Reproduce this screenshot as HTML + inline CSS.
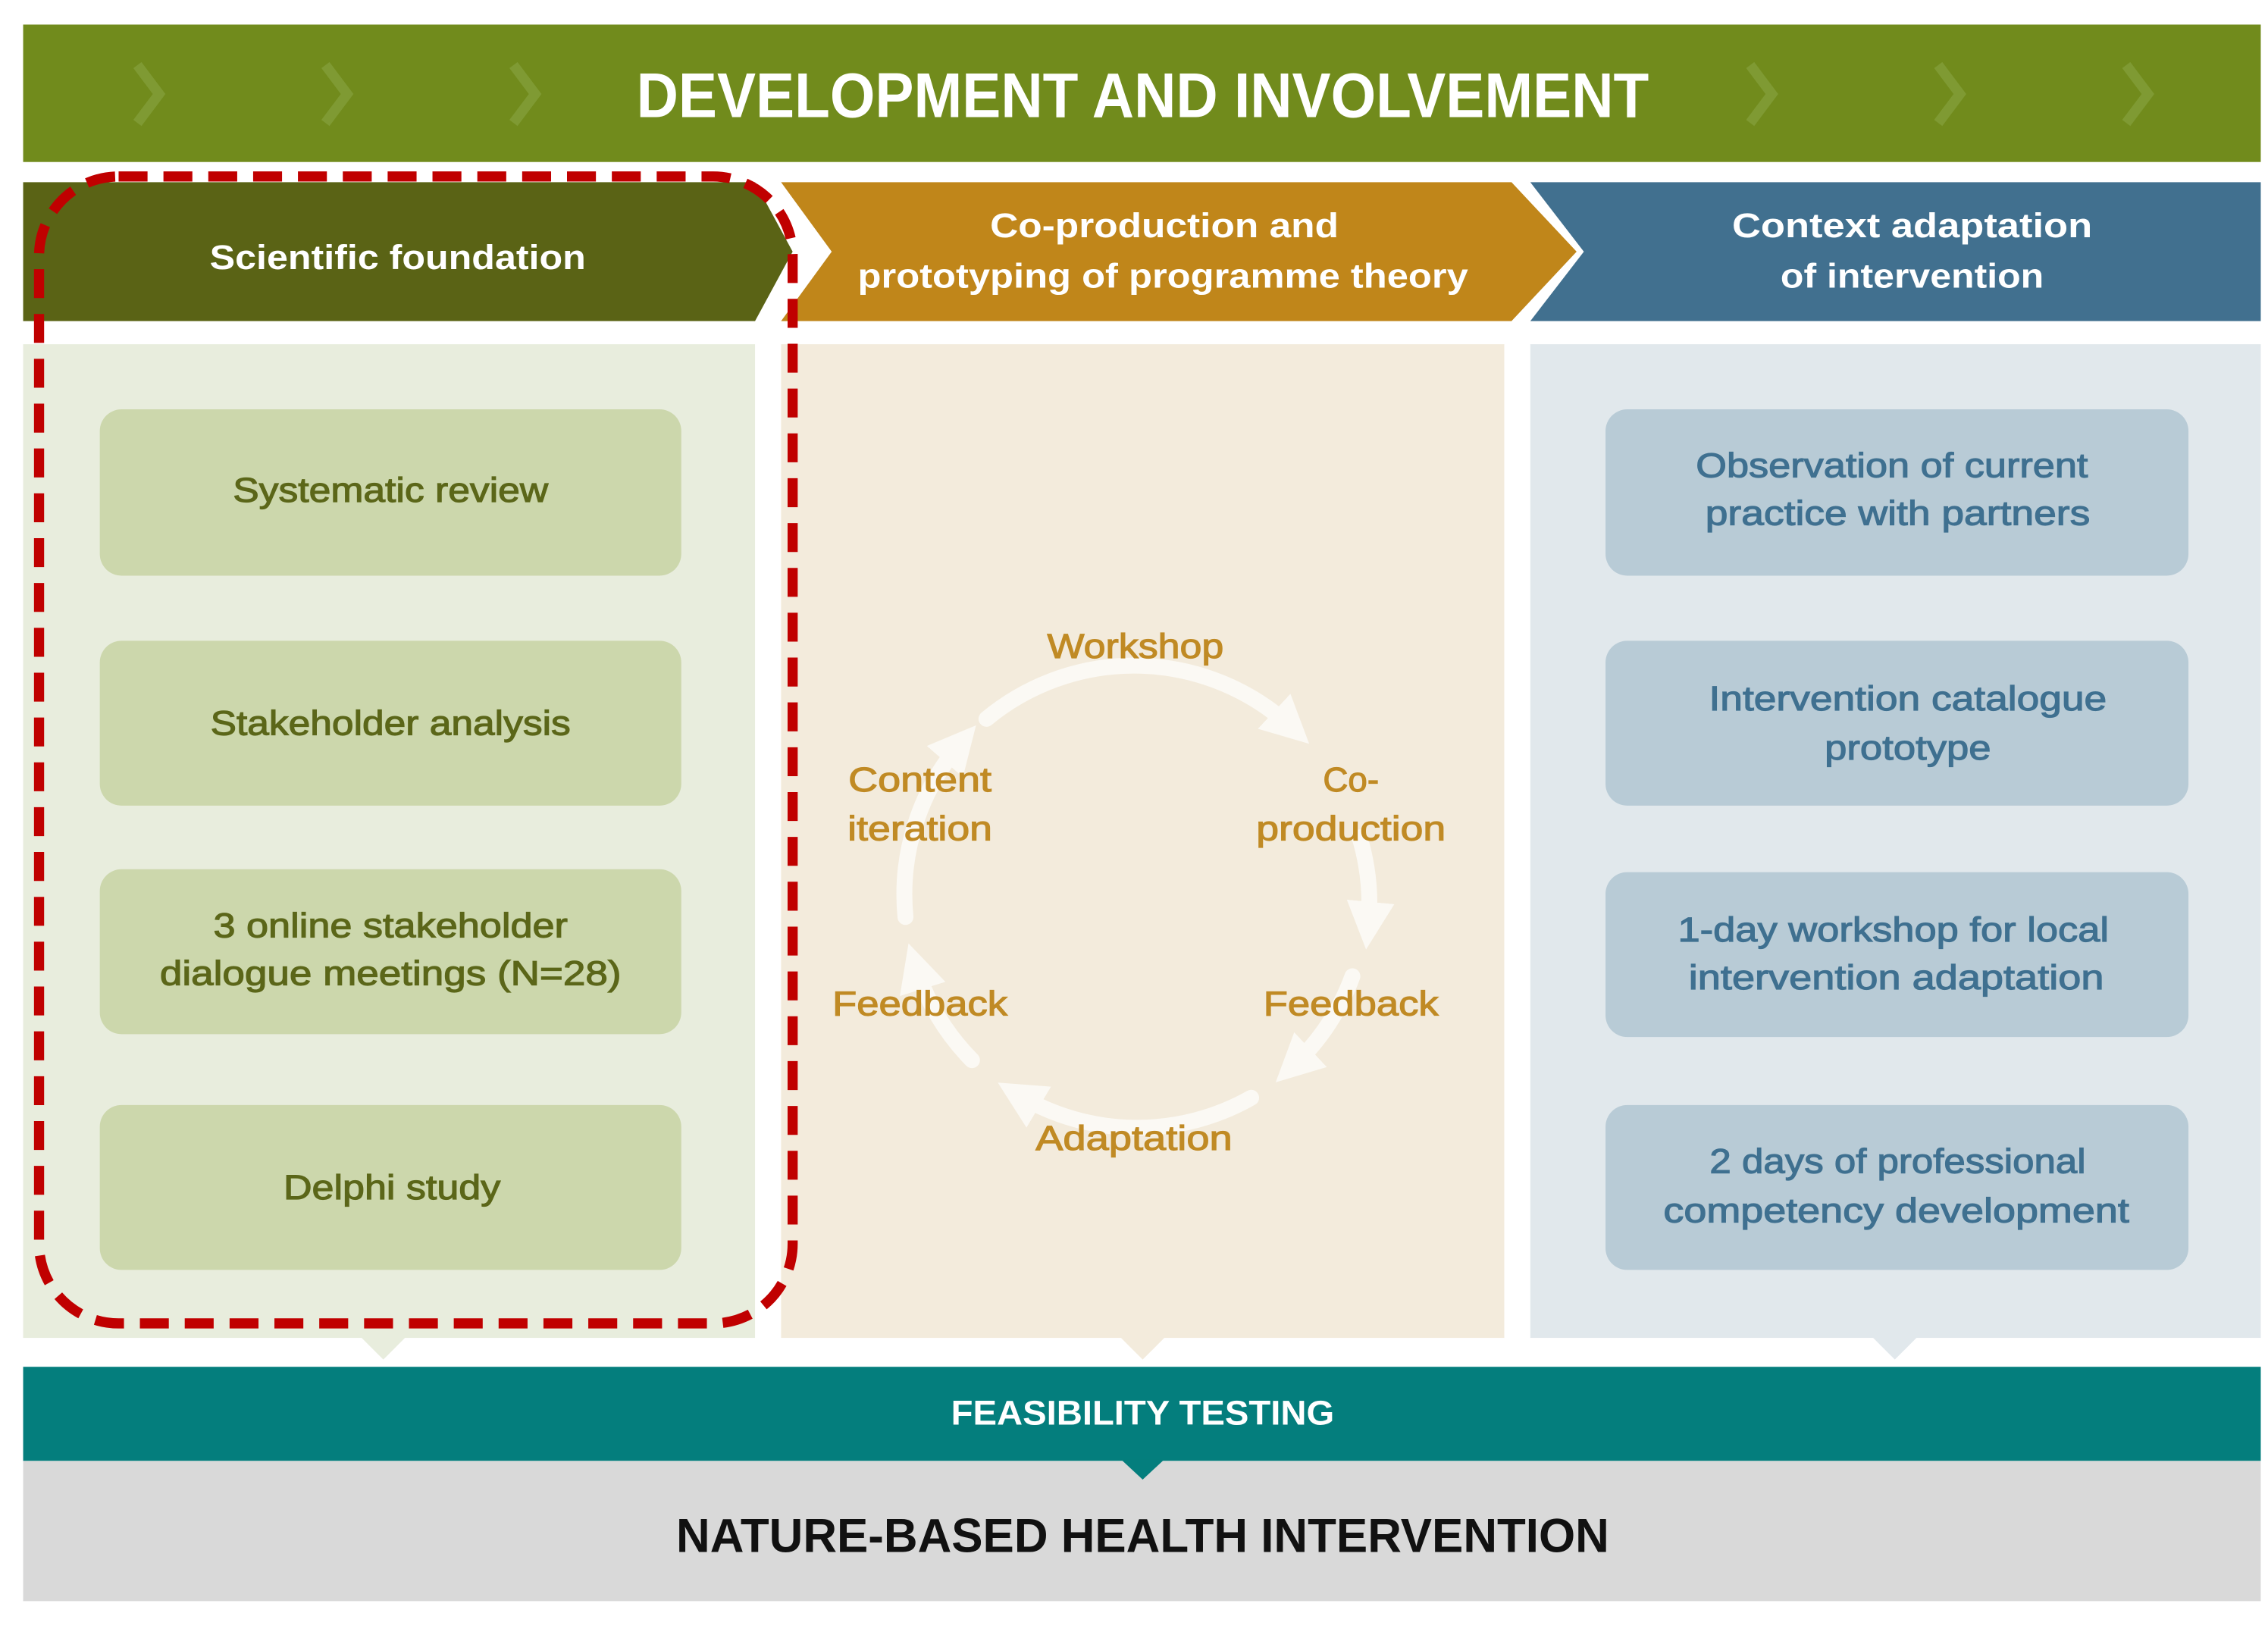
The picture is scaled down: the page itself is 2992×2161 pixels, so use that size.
<!DOCTYPE html>
<html><head><meta charset="utf-8"><style>html,body{margin:0;padding:0;background:#fff}svg{display:block}</style></head><body>
<svg width="2992" height="2161" viewBox="0 0 1568 1132.5" preserveAspectRatio="none" xmlns="http://www.w3.org/2000/svg" font-family="Liberation Sans, sans-serif">
<defs>
<marker id="ah" viewBox="0 0 10 10" refX="5" refY="5" markerWidth="3" markerHeight="3" orient="auto"><path d="M0,0 L10,5 L0,10 z" fill="#fbf9f4"/></marker>
</defs>
<rect width="1568" height="1132.5" fill="#fff"/>
<!-- banner -->
<rect x="16" y="17" width="1547" height="95" fill="#718b1c"/>
<g stroke="#7f9a33" stroke-width="7" fill="none">
<polyline points="95,45 110,65 95,85"/><polyline points="225,45 240,65 225,85"/><polyline points="355,45 370,65 355,85"/>
<polyline points="1210,45 1225,65 1210,85"/><polyline points="1340,45 1355,65 1340,85"/><polyline points="1470,45 1485,65 1470,85"/>
</g>
<text x="790" y="81" font-size="44" font-weight="bold" fill="#fff" text-anchor="middle" textLength="700" lengthAdjust="spacingAndGlyphs">DEVELOPMENT AND INVOLVEMENT</text>
<!-- headers -->
<polygon points="16,126 522,126 548,174 522,222 16,222" fill="#5a6315"/>
<polygon points="540,126 1045,126 1090,174 1045,222 540,222 575,174" fill="#c0861a"/>
<polygon points="1058,126 1563,126 1563,222 1058,222 1095,174" fill="#41708f"/>
<g fill="#fff" font-weight="bold" font-size="24" text-anchor="middle">
<text x="275" y="186" textLength="260" lengthAdjust="spacingAndGlyphs">Scientific foundation</text>
<text x="805" y="164" textLength="241" lengthAdjust="spacingAndGlyphs">Co-production and</text>
<text x="804" y="199" textLength="422" lengthAdjust="spacingAndGlyphs">prototyping of programme theory</text>
<text x="1322" y="164" textLength="249" lengthAdjust="spacingAndGlyphs">Context adaptation</text>
<text x="1322" y="199" textLength="182" lengthAdjust="spacingAndGlyphs">of intervention</text>
</g>
<!-- columns -->
<rect x="16" y="238" width="506" height="687" fill="#e8eddd"/>
<rect x="540" y="238" width="500" height="687" fill="#f3ebdc"/>
<rect x="1058" y="238" width="505" height="687" fill="#e1e8ec"/>
<polygon points="250,925 280,925 265,940" fill="#e8eddd"/>
<polygon points="775,925 805,925 790,940" fill="#f3ebdc"/>
<polygon points="1295,925 1325,925 1310,940" fill="#e1e8ec"/>
<!-- left boxes -->
<g fill="#ccd7ac">
<rect x="69" y="283" width="402" height="115" rx="15"/>
<rect x="69" y="443" width="402" height="114" rx="15"/>
<rect x="69" y="601" width="402" height="114" rx="15"/>
<rect x="69" y="764" width="402" height="114" rx="15"/>
</g>
<g fill="#5b6619" stroke="#5b6619" stroke-width="0.6" font-size="24" text-anchor="middle">
<text x="270" y="347" textLength="218" lengthAdjust="spacingAndGlyphs">Systematic review</text>
<text x="270" y="508" textLength="249" lengthAdjust="spacingAndGlyphs">Stakeholder analysis</text>
<text x="270" y="648" textLength="245" lengthAdjust="spacingAndGlyphs">3 online stakeholder</text>
<text x="270" y="681" textLength="319" lengthAdjust="spacingAndGlyphs">dialogue meetings (N=28)</text>
<text x="271" y="829" textLength="150" lengthAdjust="spacingAndGlyphs">Delphi study</text>
</g>
<!-- right boxes -->
<g fill="#b8cbd6">
<rect x="1110" y="283" width="403" height="115" rx="15"/>
<rect x="1110" y="443" width="403" height="114" rx="15"/>
<rect x="1110" y="603" width="403" height="114" rx="15"/>
<rect x="1110" y="764" width="403" height="114" rx="15"/>
</g>
<g fill="#3f7090" stroke="#3f7090" stroke-width="0.6" font-size="24" text-anchor="middle">
<text x="1308" y="330" textLength="271" lengthAdjust="spacingAndGlyphs">Observation of current</text>
<text x="1312" y="363" textLength="266" lengthAdjust="spacingAndGlyphs">practice with partners</text>
<text x="1319" y="491" textLength="275" lengthAdjust="spacingAndGlyphs">Intervention catalogue</text>
<text x="1319" y="525" textLength="115" lengthAdjust="spacingAndGlyphs">prototype</text>
<text x="1309" y="651" textLength="298" lengthAdjust="spacingAndGlyphs">1-day workshop for local</text>
<text x="1311" y="684" textLength="287" lengthAdjust="spacingAndGlyphs">intervention adaptation</text>
<text x="1312" y="811" textLength="260" lengthAdjust="spacingAndGlyphs">2 days of professional</text>
<text x="1311" y="845" textLength="322" lengthAdjust="spacingAndGlyphs">competency development</text>
</g>
<!-- cycle -->
<g stroke="#fbf9f4" stroke-width="11" fill="none" stroke-linecap="round" marker-end="url(#ah)">
<path d="M682,497 A160,160 0 0 1 893,503"/>
<path d="M940,579 A160,160 0 0 1 946,640"/>
<path d="M935,675 A160,160 0 0 1 894,737"/>
<path d="M865,759 A160,160 0 0 1 704,757"/>
<path d="M672,733 A160,160 0 0 1 633,668"/>
<path d="M626,634 A160,160 0 0 1 664,514"/>
</g>
<g fill="#c08a24" stroke="#c08a24" stroke-width="0.6" font-size="24" text-anchor="middle">
<text x="785" y="455" textLength="122" lengthAdjust="spacingAndGlyphs">Workshop</text>
<text x="636" y="547" textLength="99" lengthAdjust="spacingAndGlyphs">Content</text>
<text x="636" y="581" textLength="100" lengthAdjust="spacingAndGlyphs">iteration</text>
<text x="934" y="547">Co-</text>
<text x="934" y="581" textLength="131" lengthAdjust="spacingAndGlyphs">production</text>
<text x="636" y="702" textLength="121" lengthAdjust="spacingAndGlyphs">Feedback</text>
<text x="934" y="702" textLength="121" lengthAdjust="spacingAndGlyphs">Feedback</text>
<text x="784" y="795" textLength="136" lengthAdjust="spacingAndGlyphs">Adaptation</text>
</g>
<!-- bottom -->
<rect x="16" y="1010" width="1547" height="97" fill="#d9d9d9"/>
<rect x="16" y="945" width="1547" height="65" fill="#047e7d"/>
<polygon points="775,1009 805,1009 790,1023" fill="#047e7d"/>
<text x="790" y="985" font-size="24" font-weight="bold" fill="#fff" text-anchor="middle" textLength="265" lengthAdjust="spacingAndGlyphs">FEASIBILITY TESTING</text>
<text x="790" y="1073" font-size="33" font-weight="bold" fill="#111" text-anchor="middle" textLength="645" lengthAdjust="spacingAndGlyphs">NATURE-BASED HEALTH INTERVENTION</text>
<!-- red dashed highlight -->
<rect x="27" y="122" width="521" height="793" rx="55" fill="none" stroke="#c00000" stroke-width="7" stroke-dasharray="20 11"/>
</svg>
</body></html>
